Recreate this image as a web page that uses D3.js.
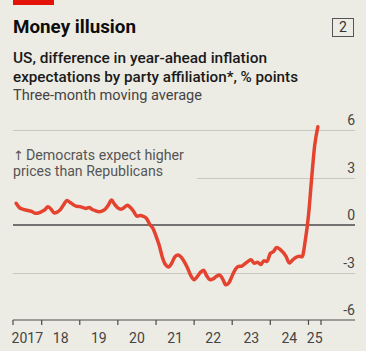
<!DOCTYPE html>
<meta charset="utf-8">
<style>
    body {
        margin: 0;
        background: #edece4;
        font-family: Roboto, "Noto Sans", sans-serif;
    }
    .grid line {
        stroke: #c9c8bf;
        stroke-width: 1;
        shape-rendering: crispEdges;
    }
    .tick-label {
        font-size: 14px;
        fill: #444;
    }
</style>
<body>
<script src="https://d3js.org/d3.v7.min.js"></script>
<script>

    // data: monthly three-month moving average, % points (Democrats minus Republicans)
    var startMonth = "2017-05";
    var values = [
        1.37, 1.10, 1.00, 0.95, 0.90, 0.85, 0.74, 0.76,
        0.85, 0.97, 1.15, 1.00, 0.76, 0.82, 0.98, 1.30, 1.55, 1.42, 1.28, 1.18,
        1.16, 1.10, 1.05, 1.10, 0.98, 0.90, 0.84, 0.88, 1.00, 1.25, 1.58, 1.30,
        1.08, 1.00, 1.10, 1.25, 1.10, 0.85, 0.55, 0.60, 0.55, 0.42, 0.05, -0.20,
        -0.70, -1.30, -2.00, -2.50, -2.65, -2.40, -2.00, -1.90, -2.05, -2.35, -2.75, -3.20,
        -3.45, -3.25, -3.00, -2.85, -3.20, -3.45, -3.40, -3.25, -3.15, -3.40, -3.78, -3.65,
        -3.20, -2.80, -2.62, -2.60, -2.45, -2.30, -2.20, -2.42, -2.35, -2.50, -2.25, -2.30,
        -1.80, -1.68, -1.42, -1.52, -1.72, -2.00, -2.40, -2.22, -2.05, -1.97, -2.00, -1.00,
        0.60, 3.00, 5.00, 6.20
    ];
    var yTicks = [6, 3, 0, -3, -6];
    var yearLabels = ["2017", "18", "19", "20", "21", "22", "23", "24", "25"];
    var xDomain = ["2017-04-01", "2025-05-01"];

    var parseMonth = d3.timeParse("%Y-%m");
    var t0 = parseMonth(startMonth);
    var data = values.map(function (v, i) {
        return { date: d3.timeMonth.offset(t0, i), value: v };
    });

    var width = 366, height = 351;
    var left = 13, right = 355;

    var svg = d3.select("body").append("svg")
        .attr("width", width)
        .attr("height", height);

    var x = d3.scaleTime()
        .domain(xDomain.map(function (d) { return new Date(d); }))
        .range([13, 321]);
    var y = d3.scaleLinear()
        .domain([-6, 6])
        .range([320, 130]);

    // header
    svg.append("rect")
        .attr("x", 13).attr("y", 0)
        .attr("width", 41).attr("height", 5)
        .attr("fill", "#e3120b");

    svg.append("text")
        .attr("x", 13).attr("y", 33)
        .attr("font-size", "18.5px")
        .attr("font-weight", 700)
        .attr("fill", "#0d0d0d")
        .attr("textLength", 123)
        .attr("lengthAdjust", "spacingAndGlyphs")
        .text("Money illusion");

    svg.append("rect")
        .attr("x", 332.5).attr("y", 18.5)
        .attr("width", 21).attr("height", 18)
        .attr("fill", "none")
        .attr("stroke", "#555")
        .attr("stroke-width", 1);
    svg.append("text")
        .attr("x", 343).attr("y", 32)
        .attr("text-anchor", "middle")
        .attr("font-size", "14px")
        .attr("fill", "#333")
        .text("2");

    var subtitle = [
        { t: "US, difference in year-ahead inflation", y: 63, w: 254 },
        { t: "expectations by party affiliation*, % points", y: 82, w: 285 }
    ];
    subtitle.forEach(function (s) {
        svg.append("text")
            .attr("x", 13).attr("y", s.y)
            .attr("font-size", "15.5px")
            .attr("font-weight", 500)
            .attr("fill", "#1a1a1a")
            .attr("textLength", s.w)
            .attr("lengthAdjust", "spacingAndGlyphs")
            .text(s.t);
    });
    svg.append("text")
        .attr("x", 13).attr("y", 100)
        .attr("font-size", "14.5px")
        .attr("fill", "#444")
        .attr("textLength", 189)
        .attr("lengthAdjust", "spacingAndGlyphs")
        .text("Three-month moving average");

    // gridlines
    var grid = svg.append("g").attr("class", "grid");
    grid.selectAll("line")
        .data(yTicks.filter(function (d) { return d !== 0 && d !== -6; }))
        .enter().append("line")
        .attr("x1", function (d) { return d === 3 ? 197 : left; })
        .attr("x2", right)
        .attr("y1", function (d) { return Math.round(y(d)) + 0.5; })
        .attr("y2", function (d) { return Math.round(y(d)) + 0.5; });

    svg.selectAll(".ylab")
        .data(yTicks)
        .enter().append("text")
        .attr("class", "tick-label")
        .attr("x", right)
        .attr("y", function (d) { return y(d) - 5; })
        .attr("text-anchor", "end")
        .text(function (d) { return d; });

    // annotation
    var note = svg.append("text")
        .attr("x", 13).attr("y", 160)
        .attr("font-size", "14px")
        .attr("fill", "#555");
    note.append("tspan")
        .attr("font-family", "'DejaVu Sans', sans-serif")
        .attr("font-size", "13px")
        .text("\u2191");
    note.append("tspan")
        .attr("dx", 2)
        .attr("textLength", 158)
        .attr("lengthAdjust", "spacingAndGlyphs")
        .text("Democrats expect higher");
    svg.append("text")
        .attr("x", 13).attr("y", 176)
        .attr("font-size", "14px")
        .attr("fill", "#555")
        .attr("textLength", 150)
        .attr("lengthAdjust", "spacingAndGlyphs")
        .text("prices than Republicans");

    // x axis
    var xTicks = [x.domain()[0]]
        .concat(d3.timeYear.range(new Date("2018-01-01"), x.domain()[1]))
        .concat([x.domain()[1]]);

    svg.append("line")
        .attr("x1", left).attr("x2", right)
        .attr("y1", y(-6)).attr("y2", y(-6))
        .attr("stroke", "#4a4a4a")
        .attr("stroke-width", 1.2);

    svg.selectAll(".xtick")
        .data(xTicks)
        .enter().append("line")
        .attr("x1", function (d) { return x(d); })
        .attr("x2", function (d) { return x(d); })
        .attr("y1", y(-6))
        .attr("y2", y(-6) + 5)
        .attr("stroke", "#4a4a4a")
        .attr("stroke-width", 1.2);

    svg.selectAll(".xlab")
        .data(yearLabels)
        .enter().append("text")
        .attr("class", "tick-label")
        .attr("x", function (d, i) { return (x(xTicks[i]) + x(xTicks[i + 1])) / 2; })
        .attr("y", 343)
        .attr("text-anchor", "middle")
        .text(function (d) { return d; });

    // zero line
    svg.append("line")
        .attr("x1", left).attr("x2", right)
        .attr("y1", y(0)).attr("y2", y(0))
        .attr("stroke", "#4a4a4a")
        .attr("stroke-width", 1.5);

    // series
    var line = d3.line()
        .x(function (d) { return x(d.date); })
        .y(function (d) { return y(d.value); })
        .curve(d3.curveMonotoneX);

    svg.append("path")
        .datum(data)
        .attr("d", line)
        .attr("fill", "none")
        .attr("stroke", "#e4442f")
        .attr("stroke-width", 3.5)
        .attr("stroke-linejoin", "round")
        .attr("stroke-linecap", "round");

</script>
</body>
